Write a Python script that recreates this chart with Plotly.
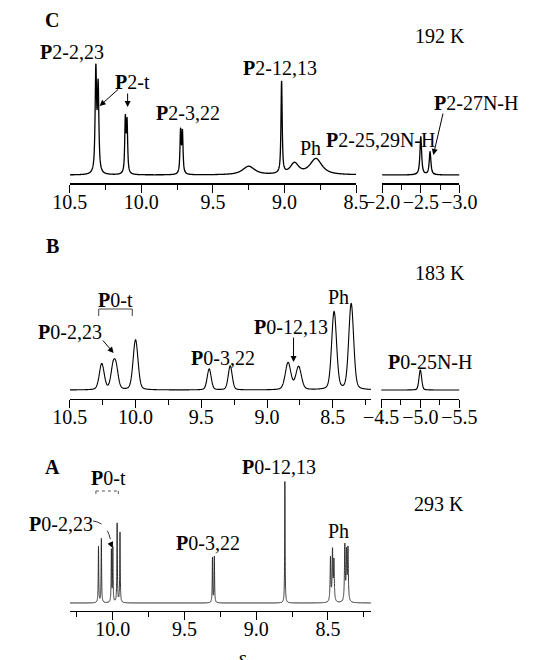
import numpy as np
import plotly.graph_objects as go

# page body has an 8 px default margin; the figure is sized so that
# reference pixel (px, py) maps to figure pixel (px-8, py-8)
OFF = 8
W, H = 539 - OFF, 660 - OFF

# ---------------- data: peak tables ----------------
# Panel C, 192 K (ppm, height, half width)
c_main_ppm = [10.318, 10.302, 10.112, 10.100, 9.726, 9.713, 9.25, 9.02, 8.93, 8.78]
c_main_h = [102, 85, 54, 50, 42, 41, 8.5, 92, 11, 16]
c_main_w = [0.006, 0.006, 0.005, 0.005, 0.005, 0.005, 0.05, 0.005, 0.035, 0.05]
c_nh_ppm = [-2.50, -2.62]
c_nh_h = [38, 23]
c_nh_w = [0.013, 0.013]

# Panel B, 183 K
b_main_ppm = [10.257, 10.172, 10.148, 10.0, 9.44, 9.28, 8.84, 8.76, 8.49, 8.36]
b_main_h = [26, 20, 20, 50, 21, 24, 27, 23, 78, 86]
b_main_w = [0.022, 0.02, 0.02, 0.022, 0.018, 0.018, 0.025, 0.025, 0.022, 0.022]
b_nh_ppm = [-5.0]
b_nh_h = [20]
b_nh_w = [0.02]

# Panel A, 293 K
a_main_ppm = [10.100, 10.080, 10.010, 10.000, 9.970, 9.950, 9.305, 9.292, 8.800,
              8.482, 8.468, 8.458, 8.382, 8.370, 8.360]
a_main_h = [56, 64, 52, 54, 79, 70, 45, 46, 122, 44, 50, 40, 56, 48, 52]
a_main_w = [0.002, 0.002, 0.002, 0.002, 0.002, 0.002, 0.002, 0.002, 0.0018,
            0.003, 0.003, 0.003, 0.003, 0.003, 0.003]

# axis ranges (ppm)
c_main_range = [10.5, 8.5]
c_nh_range = [-2.0, -3.0]
b_main_range = [10.5, 8.21]
b_nh_range = [-4.5, -5.5]
a_main_range = [10.30, 8.20]


def spectrum(rng, ppm, hts, wid, eta, n=8000):
    x = np.linspace(min(rng), max(rng), n)
    y = np.zeros_like(x)
    for p, h, w in zip(ppm, hts, wid):
        d = (x - p) / w
        y += h * (eta / (1 + d ** 2) + (1 - eta) * np.exp(-np.log(2) * d ** 2))
    return x, y


def X(px):
    return (px - OFF) / W


def Y(py):
    return 1 - (py - OFF) / H


FONT = "Liberation Serif"
fig = go.Figure()

specs = [
    ("x", "y", c_main_range, c_main_ppm, c_main_h, c_main_w, 0.85, 1.3, "black"),
    ("x2", "y", c_nh_range, c_nh_ppm, c_nh_h, c_nh_w, 0.85, 1.3, "black"),
    ("x3", "y2", b_main_range, b_main_ppm, b_main_h, b_main_w, 0.25, 1.1, "black"),
    ("x4", "y2", b_nh_range, b_nh_ppm, b_nh_h, b_nh_w, 0.25, 1.1, "black"),
    ("x5", "y3", a_main_range, a_main_ppm, a_main_h, a_main_w, 1.0, 0.9, "#222222"),
]
for xa, ya, rng, p, h, w, eta, lw, col in specs:
    xx, yy = spectrum(rng, p, h, w, eta)
    fig.add_trace(go.Scatter(x=xx, y=yy, xaxis=xa, yaxis=ya, mode="lines",
                             line=dict(color=col, width=lw, simplify=False),
                             showlegend=False, hoverinfo="skip"))


def xaxis(domain, anchor, rng, lw=1.5):
    return dict(domain=[X(domain[0]), X(domain[1])], anchor=anchor, range=rng,
                showline=True, linecolor="black", linewidth=lw,
                ticks="outside", ticklen=8, tickwidth=1.3, tickcolor="black",
                tick0=0, dtick=0.5, tickformat=".1f", ticklabelstandoff=-8,
                minor=dict(dtick=0.25, ticks="outside", ticklen=5, tickwidth=1.1,
                           tickcolor="black"),
                showgrid=False, zeroline=False,
                tickfont=dict(family=FONT, size=20, color="black"))


def yaxis(bottom, top, rng):
    return dict(domain=[Y(bottom), Y(top)], range=rng, visible=False,
                showgrid=False, zeroline=False)


layout = dict(
    width=W, height=H, autosize=False,
    margin=dict(l=0, r=0, t=0, b=0),
    paper_bgcolor="white", plot_bgcolor="white",
    xaxis=xaxis((55, 362), "y", c_main_range, 1.6),
    xaxis2=xaxis((390, 473), "y", c_nh_range, 1.6),
    xaxis3=xaxis((55, 378), "y2", b_main_range, 1.4),
    xaxis4=xaxis((389, 473), "y2", b_nh_range, 1.4),
    xaxis5=xaxis((55, 378), "y3", a_main_range, 1.2),
    yaxis=yaxis(183, 55, [-8, 120]),
    yaxis2=yaxis(399, 290, [-9, 100]),
    yaxis3=yaxis(611, 470, [-8, 133]),
)
fig.update_layout(**layout)

ann = []


def lab(text, cx, cy, size=20):
    ann.append(dict(text=text, x=X(cx), y=Y(cy), xref="paper", yref="paper",
                    xanchor="center", yanchor="middle", showarrow=False,
                    font=dict(family=FONT, size=size, color="black")))


def arr(hx, hy, tx, ty, col="black"):
    ann.append(dict(text="", x=X(hx), y=Y(hy), xref="paper", yref="paper",
                    ax=tx - hx, ay=ty - hy, axref="pixel", ayref="pixel",
                    showarrow=True, arrowhead=2, arrowsize=1.2, arrowwidth=1,
                    arrowcolor=col, standoff=0, startstandoff=0))


# Panel C
lab("<b>C</b>", 36, 20)
lab("192 K", 452, 36)
lab("<b>P</b>2-2,23", 57, 52)
lab("<b>P</b>2-t", 122, 82)
arr(87, 106, 107, 88)
arr(117, 107, 117, 92)
lab("<b>P</b>2-3,22", 182, 113)
lab("<b>P</b>2-12,13", 281, 68)
lab("Ph", 313, 148)
lab("<b>P</b>2-25,29N-H", 388, 140)
lab("<b>P</b>2-27N-H", 491, 103)
arr(445, 155, 455, 112)

# Panel B
lab("<b>B</b>", 36, 246)
lab("183 K", 452, 273)
lab("<b>P</b>0-t", 104, 300)
lab("<b>P</b>0-2,23", 55, 332)
arr(102, 353, 90, 339)
lab("<b>P</b>0-3,22", 219, 358)
lab("<b>P</b>0-12,13", 292, 327)
arr(295, 362, 295, 336)
lab("Ph", 343, 297)
lab("<b>P</b>0-25N-H", 441, 362)

# Panel A
lab("<b>A</b>", 36, 467)
lab("293 K", 451, 504)
lab("<b>P</b>0-t", 96, 478)
lab("<b>P</b>0-2,23", 46, 524)
arr(101, 548, 98, 541)
lab("<b>P</b>0-3,22", 203, 543)
lab("<b>P</b>0-12,13", 279, 467)
lab("Ph", 343, 531)
lab("δ", 240, 662, 22)

fig.update_layout(annotations=ann)

shapes = []
# B bracket (solid)
for x0, y0, x1, y1 in [(86, 309, 122, 309), (86, 309, 86, 316), (122, 309, 122, 316)]:
    shapes.append(dict(type="line", xref="paper", yref="paper",
                       x0=X(x0), y0=Y(y0), x1=X(x1), y1=Y(y1),
                       line=dict(color="#444444", width=1)))
# A bracket (dotted)
for x0, y0, x1, y1 in [(83, 491, 107, 491), (83, 491, 83, 497), (107, 491, 107, 497)]:
    shapes.append(dict(type="line", xref="paper", yref="paper",
                       x0=X(x0), y0=Y(y0), x1=X(x1), y1=Y(y1),
                       line=dict(color="#555555", width=1, dash="dot")))
# A curved dashed arrow
shapes.append(dict(type="path", xref="paper", yref="paper",
                   path=f"M {X(80)} {Y(521)} Q {X(96)} {Y(523)} {X(99)} {Y(542)}",
                   line=dict(color="#333333", width=1, dash="dash")))
fig.update_layout(shapes=shapes)

fig.write_html("out.html")
